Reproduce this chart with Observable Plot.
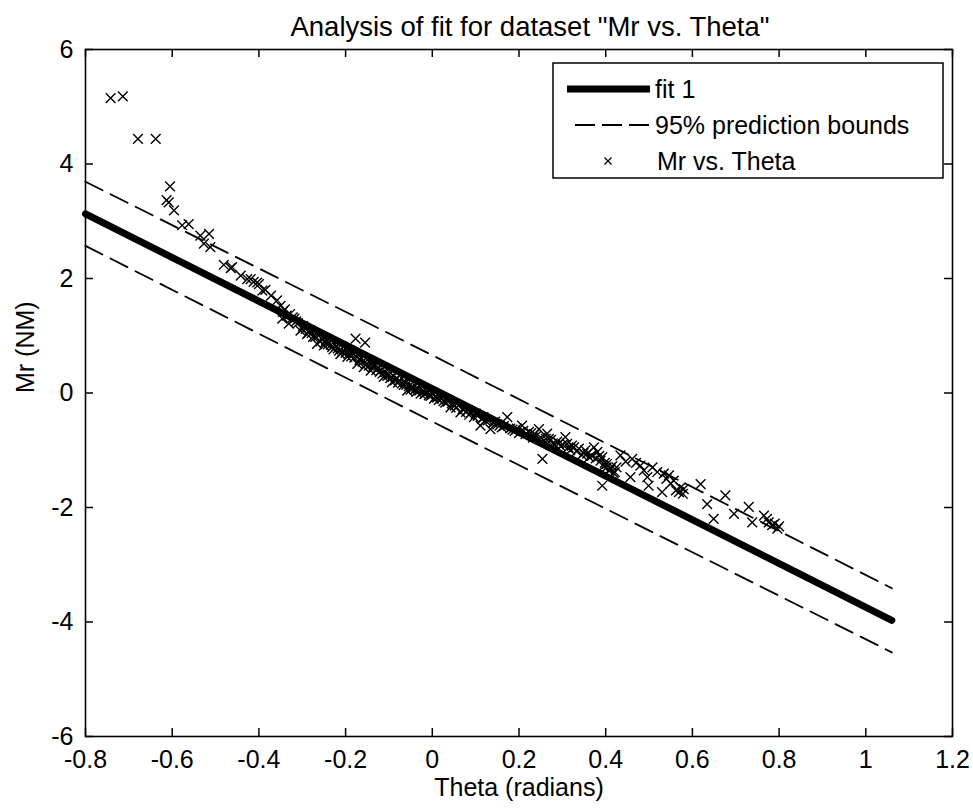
<!DOCTYPE html>
<html>
<head>
<meta charset="utf-8">
<script src="https://cdn.jsdelivr.net/npm/d3@7"></script>
<script src="https://cdn.jsdelivr.net/npm/@observablehq/plot@0.6"></script>
<style>
  html, body { margin: 0; padding: 0; background: #fff; }
  #chart { width: 973px; height: 810px; }
</style>
</head>
<body>
<div id="chart"></div>
<script>
// ---- data ----
const theta = [
  -0.742, -0.714, -0.679, -0.638,
  -0.605, -0.613, -0.608, -0.596,
  -0.577, -0.562, -0.535, -0.515, -0.527, -0.512,
  -0.481, -0.465, -0.462, -0.442, -0.427, -0.419, -0.412, -0.404, -0.400, -0.392,
  -0.385, -0.372, -0.358, -0.350, -0.346, -0.340, -0.331, -0.328, -0.318, -0.310,
  -0.304, -0.298, -0.289, -0.282, -0.275, -0.266, -0.262, -0.255, -0.250, -0.245,
  -0.238, -0.231, -0.225, -0.218, -0.212, -0.205, -0.196, -0.190, -0.184, -0.177,
  -0.173, -0.170, -0.165, -0.158, -0.155, -0.150, -0.142, -0.140, -0.133, -0.125,
  -0.118, -0.112, -0.108, -0.100, -0.093, -0.090, -0.083, -0.076, -0.070, -0.063,
  -0.058, -0.054, -0.047, -0.040, -0.034, -0.027, -0.022, -0.015, -0.008, 0.004,
  0.000, 0.008, 0.015, 0.022, 0.030, 0.036, 0.042, 0.048, 0.055, 0.065,
  0.070, 0.078, 0.085, 0.096, 0.100, 0.111, 0.115, 0.122, 0.134, 0.140,
  0.150, 0.160, 0.173, 0.180, 0.190, 0.200, 0.207, 0.215, 0.223, 0.232,
  0.240, 0.246, 0.254, 0.258, 0.265, 0.269, 0.278, 0.288, 0.296, 0.307,
  0.311, 0.318, 0.327, 0.338, 0.345, 0.353, 0.362, 0.373, 0.381, 0.388,
  0.392, 0.392, 0.398, 0.403, 0.408, 0.411, 0.418, 0.425, 0.434, 0.446,
  0.457, 0.461, 0.470, 0.480, 0.488, 0.496, 0.499, 0.508, 0.519, 0.530,
  0.534, 0.540, 0.546, 0.550, 0.557, 0.562, 0.569, 0.573, 0.578, 0.580,
  0.619, 0.634, 0.649, 0.676, 0.696, 0.730, 0.738, 0.765, 0.772, 0.776,
  0.784, 0.790, 0.796, 0.800,
  -0.345, -0.336, -0.322, -0.314, -0.300, -0.292, -0.285, -0.278, -0.270, -0.258,
  -0.248, -0.241, -0.234, -0.228, -0.221, -0.215, -0.208, -0.200, -0.193, -0.187,
  -0.180, -0.168, -0.161, -0.153, -0.146, -0.137, -0.129, -0.121, -0.115, -0.104,
  -0.097, -0.086, -0.079, -0.066, -0.060, -0.050, -0.043, -0.037, -0.030, -0.018,
  -0.011, -0.004, 0.011, 0.018, 0.026, 0.033, 0.045, 0.052, 0.060, 0.074,
  0.082, 0.090, 0.105, 0.118, 0.128, 0.145, 0.155, 0.165, 0.185, 0.195,
  0.210, 0.228, 0.236, 0.250, 0.262, 0.274, 0.283, 0.292, 0.301, 0.314,
  0.322, 0.333, 0.349, 0.357, 0.368, 0.377, 0.385, 0.395, 0.402, 0.415,
  0.421
];
const mr = [
  5.15, 5.18, 4.44, 4.44,
  3.61, 3.37, 3.33, 3.19,
  2.93, 2.95, 2.75, 2.78, 2.61, 2.55,
  2.24, 2.18, 2.20, 2.05, 1.99, 1.99, 1.94, 1.93, 1.90, 1.79,
  1.80, 1.70, 1.62, 1.52, 1.30, 1.46, 1.21, 1.38, 1.30, 1.22,
  1.09, 1.17, 1.03, 1.10, 0.98, 0.86, 1.00, 0.95, 0.83, 0.92,
  0.88, 0.80, 0.85, 0.78, 0.68, 0.80, 0.63, 0.74, 0.70, 0.95,
  0.51, 0.66, 0.62, 0.45, 0.88, 0.58, 0.39, 0.52, 0.50, 0.44,
  0.40, 0.28, 0.36, 0.32, 0.19, 0.30, 0.25, 0.22, 0.17, 0.20,
  0.04, 0.12, 0.10, 0.06, 0.08, -0.01, 0.03, 0.00, -0.04, -0.10,
  -0.02, -0.06, -0.12, -0.10, -0.17, -0.15, -0.25, -0.20, -0.26, -0.34,
  -0.28, -0.33, -0.38, -0.42, -0.36, -0.57, -0.45, -0.48, -0.63, -0.52,
  -0.55, -0.60, -0.42, -0.62, -0.66, -0.70, -0.57, -0.72, -0.68, -0.78,
  -0.75, -0.63, -1.15, -0.83, -0.71, -0.80, -0.88, -0.85, -0.93, -0.77,
  -0.89, -1.00, -0.95, -0.97, -1.08, -1.00, -1.12, -0.95, -1.03, -1.18,
  -1.12, -1.62, -1.22, -1.24, -1.36, -1.32, -1.40, -1.30, -1.09, -1.20,
  -1.47, -1.15, -1.22, -1.27, -1.35, -1.47, -1.62, -1.30, -1.38, -1.73,
  -1.41, -1.50, -1.44, -1.58, -1.53, -1.70, -1.73, -1.65, -1.76, -1.68,
  -1.59, -1.94, -2.20, -1.79, -2.11, -1.99, -2.26, -2.14, -2.20, -2.26,
  -2.31, -2.28, -2.37, -2.33,
  1.42, 1.35, 1.32, 1.25, 1.12, 1.12, 1.06, 1.05, 0.98, 0.90,
  0.88, 0.85, 0.84, 0.76, 0.82, 0.74, 0.72, 0.70, 0.68, 0.64,
  0.62, 0.58, 0.55, 0.50, 0.48, 0.45, 0.40, 0.37, 0.34, 0.30,
  0.26, 0.22, 0.18, 0.14, 0.14, 0.06, 0.10, 0.02, 0.04, -0.02,
  0.02, -0.05, -0.08, -0.06, -0.14, -0.11, -0.18, -0.22, -0.22, -0.28,
  -0.30, -0.34, -0.40, -0.42, -0.48, -0.50, -0.57, -0.58, -0.64, -0.62,
  -0.66, -0.70, -0.72, -0.78, -0.80, -0.82, -0.90, -0.88, -0.90, -0.95,
  -0.92, -1.02, -1.05, -1.06, -1.10, -1.14, -1.10, -1.28, -1.30, -1.28,
  -1.38
];
const fitTheta = [-0.8, 1.06];
const fitMr = [3.13, -3.97];
const boundTheta = [-0.8, 0, 1.06];
const upperMr = [3.69, 0.66, -3.41];
const lowerMr = [2.57, -0.50, -4.53];

const xTicks = [-0.8, -0.6, -0.4, -0.2, 0, 0.2, 0.4, 0.6, 0.8, 1, 1.2];
const xTickLabels = ["-0.8", "-0.6", "-0.4", "-0.2", "0", "0.2", "0.4", "0.6", "0.8", "1", "1.2"];
const yTicks = [-6, -4, -2, 0, 2, 4, 6];
const yTickLabels = ["-6", "-4", "-2", "0", "2", "4", "6"];

const titleText = "Analysis of fit for dataset \"Mr vs. Theta\"";
const xLabel = "Theta (radians)";
const yLabel = "Mr (NM)";
const legendLabels = ["fit 1", "95% prediction bounds", "Mr vs. Theta"];

// ---- tables built from the arrays ----
const points = theta.map((t, i) => ({theta: t, mr: mr[i]}));
const fit = fitTheta.map((t, i) => ({theta: t, mr: fitMr[i]}));
const upper = boundTheta.map((t, i) => ({theta: t, mr: upperMr[i]}));
const lower = boundTheta.map((t, i) => ({theta: t, mr: lowerMr[i]}));

const W = 973, H = 810;
const mL = 85, mR = 21, mT = 49, mB = 74;
const frameW = W - mL - mR, frameH = H - mT - mB;
const tickLen = 8;
const font = "'Liberation Sans', Arial, Helvetica, sans-serif";

const plot = Plot.plot({
  width: W, height: H,
  marginLeft: mL, marginRight: mR, marginTop: mT, marginBottom: mB,
  style: {fontFamily: font, fontSize: "25px", color: "black", background: "white"},
  x: {domain: [-0.8, 1.2]},
  y: {domain: [-6, 6]},
  marks: [
    Plot.dot(points, {x: "theta", y: "mr", symbol: "times", r: 4.5, stroke: "black", strokeWidth: 1.4, fill: "none"}),
    Plot.line(upper, {x: "theta", y: "mr", stroke: "black", strokeWidth: 1.8, strokeDasharray: "19,9"}),
    Plot.line(lower, {x: "theta", y: "mr", stroke: "black", strokeWidth: 1.8, strokeDasharray: "19,9"}),
    Plot.line(fit, {x: "theta", y: "mr", stroke: "black", strokeWidth: 7}),
    Plot.ruleX(xTicks, {insetTop: frameH - tickLen, stroke: "black", strokeWidth: 1.5}),
    Plot.ruleX(xTicks, {insetBottom: frameH - tickLen, stroke: "black", strokeWidth: 1.5}),
    Plot.ruleY(yTicks, {insetRight: frameW - tickLen, stroke: "black", strokeWidth: 1.5}),
    Plot.ruleY(yTicks, {insetLeft: frameW - tickLen, stroke: "black", strokeWidth: 1.5}),
    Plot.frame({stroke: "black", strokeWidth: 1.6}),
    Plot.axisX(xTicks, {tickSize: 0, tickPadding: 14, label: null,
      tickFormat: d => xTickLabels[xTicks.indexOf(d)]}),
    Plot.axisY(yTicks, {tickSize: 0, tickPadding: 12, label: null,
      tickFormat: d => yTickLabels[yTicks.indexOf(d)]}),
    Plot.text([titleText], {frameAnchor: "top", dx: 11, dy: -33, fontSize: 27.5, fill: "black"}),
    Plot.text([xLabel], {frameAnchor: "bottom", dy: 59, fontSize: 25, fill: "black"}),
    Plot.text([yLabel], {frameAnchor: "left", dx: -60, rotate: -90, fontSize: 25, fill: "black"})
  ]
});

// ---- legend (inside the axes, top right) ----
const svg = d3.select(plot);
const lg = svg.append("g").attr("class", "legend").attr("text-anchor", "start");
lg.append("rect").attr("x", 553).attr("y", 63).attr("width", 390).attr("height", 115)
  .attr("fill", "white").attr("stroke", "black").attr("stroke-width", 1.5);
const rowY = [89, 125, 161];
lg.append("line").attr("x1", 567).attr("x2", 650).attr("y1", rowY[0]).attr("y2", rowY[0])
  .attr("stroke", "black").attr("stroke-width", 7);
lg.append("line").attr("x1", 575).attr("x2", 649).attr("y1", rowY[1]).attr("y2", rowY[1])
  .attr("stroke", "black").attr("stroke-width", 1.8).attr("stroke-dasharray", "20,7");
lg.append("path").attr("d", `M604.5,${rowY[2]-3.5}L611.5,${rowY[2]+3.5}M604.5,${rowY[2]+3.5}L611.5,${rowY[2]-3.5}`)
  .attr("stroke", "black").attr("stroke-width", 1.2).attr("fill", "none");
legendLabels.forEach((s, i) => {
  lg.append("text").attr("x", i === 2 ? 657 : 655).attr("y", rowY[i]).attr("dy", "0.35em")
    .attr("text-anchor", "start")
    .attr("fill", "black").style("font-size", "25px").style("font-family", font).text(s);
});

document.getElementById("chart").appendChild(plot);
</script>
</body>
</html>
